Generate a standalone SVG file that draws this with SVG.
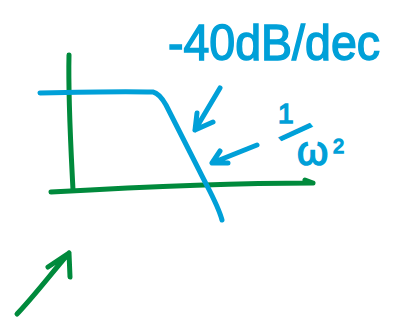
<svg xmlns="http://www.w3.org/2000/svg" width="395" height="320" viewBox="0 0 395 320">
<style>
.g{fill:none;stroke:#008a3c;stroke-width:5;stroke-linecap:round;stroke-linejoin:round}
.b{fill:none;stroke:#00a0d8;stroke-width:5;stroke-linecap:round;stroke-linejoin:round}
.t{fill:#00a0d8;stroke:#00a0d8;stroke-width:1.5;font-family:"Liberation Sans",Arial,sans-serif}
</style>
<rect width="395" height="320" fill="#fff"/>
<g id="axes">
<path class="g" d="M69,55 C68,100 71,150 73,190"/>
<path class="g" d="M51,192 C140,187 230,183 313,183 M305,180 L313,183"/>
</g>
<g id="curve">
<path class="b" d="M40,93 C80,92 120,91 153,92 C158,93 162,98 166,105 L200,172 C210,192 218,205 222,220"/>
</g>
<g id="connectors">
<path class="b" d="M220,88 L195,130 M197,113 L195,130 L213,122"/>
<path class="b" d="M257,145 L212,163 M220,151 L212,163 L228,163"/>
<path class="g" d="M17,314 C35,295 50,275 69,253 M48,267 L69,253 L70,277"/>
</g>
<g id="labels">
<text class="t" x="168" y="60" font-size="50" textLength="212" lengthAdjust="spacingAndGlyphs">-40dB/dec</text>
<text class="t" x="278" y="123" font-size="28">1</text>
<text class="t" x="-6" y="14" font-size="44" transform="translate(294,133) rotate(50)">/</text>
<text class="t" x="297" y="165" font-size="40">ω</text>
<text class="t" x="333" y="153" font-size="20">2</text>
</g>
</svg>
